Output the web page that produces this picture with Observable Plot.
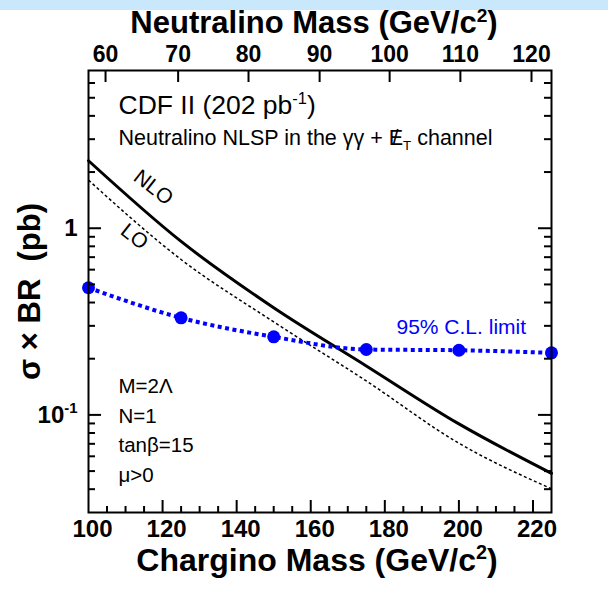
<!DOCTYPE html>
<html>
<head>
<meta charset="utf-8">
<script src="https://cdn.jsdelivr.net/npm/d3@7"></script>
<script src="https://cdn.jsdelivr.net/npm/@observablehq/plot@0.6"></script>
<style>
  html, body { margin: 0; padding: 0; background: #fff; }
  #band { position: absolute; left: 0; top: 0; width: 608px; height: 10px; background: #c9e8fb; }
  #chart { position: absolute; left: 0; top: 0; }
</style>
</head>
<body>
<div id="band"></div>
<div id="chart"></div>
<script>
// ---- data ----
const limitMass = [100, 125, 150, 175, 200, 225];            // chargino mass (GeV/c^2)
const limit95   = [0.48, 0.331, 0.262, 0.224, 0.222, 0.215];  // 95% C.L. limit (pb)
const theoryMass = [100, 125, 150, 175, 200, 225];
const nloXsec    = [2.30, 0.85, 0.375, 0.183, 0.0895, 0.0486];
const loXsec     = [1.81, 0.68, 0.315, 0.152, 0.0705, 0.0402];

const bottomTickLabels = [100, 120, 140, 160, 180, 200, 220];
const bottomMinorTicks = [105, 110, 115, 125, 130, 135, 145, 150, 155, 165, 170, 175, 185, 190, 195, 205, 210, 215];
const bottomMajorTicks = [120, 140, 160, 180, 200, 220];
const neutralinoLabels = [60, 70, 80, 90, 100, 110, 120];
const neutralinoAtChargino = [104.6, 124.2, 143.2, 162.4, 181.3, 200.4, 219.6];
const yMajorTicks = [0.1, 1];
const yMajorLabels = ["10^{-1}", "1"];
const yMinorTicks = [0.04, 0.05, 0.06, 0.07, 0.08, 0.09, 0.2, 0.3, 0.4, 0.5, 0.6, 0.7, 0.8, 0.9, 2, 3, 4, 5, 6];

const topTitle = "Neutralino Mass (GeV/c^{2})";
const bottomTitle = "Chargino Mass (GeV/c^{2})";
const yTitle = "\u03c3 \u00d7 BR\u00a0 (pb)";
const headLine1 = "CDF II (202 pb^{-1})";
const headLine2 = "Neutralino NLSP in the \u03b3\u03b3 + E~{/}_{T} channel";
const paramLines = ["M=2\u039b", "N=1", "tan\u03b2=15", "\u03bc>0"];
const limitLabel = "95% C.L. limit";

// ---- layout ----
const W = 608, H = 597, mL = 88, mR = 57, mT = 70, mB = 85;
const innerW = W - mL - mR, innerH = H - mT - mB;
const FONT = "'Liberation Sans', Arial, Helvetica, sans-serif";
const BLUE = "#0000ff";

const limitData = limitMass.map((m, i) => ({m, v: limit95[i]}));
const nloData = theoryMass.map((m, i) => ({m, v: nloXsec[i]}));
const loData = theoryMass.map((m, i) => ({m, v: loXsec[i]}));

const paramMarks = paramLines.map((t, i) => Plot.text([t], {
  text: d => d, frameAnchor: "top-left", dx: 30, dy: 316 + i * 29.5,
  textAnchor: "start", lineAnchor: "middle", fontSize: 20.5, fill: "black"
}));

const chart = Plot.plot({
  width: W, height: H,
  marginLeft: mL, marginRight: mR, marginTop: mT, marginBottom: mB,
  style: {background: "transparent", fontFamily: FONT, color: "black"},
  x: {domain: [100, 225], axis: null},
  y: {type: "log", domain: [0.03, 7], axis: null},
  marks: [
    // theory curves
    Plot.line(loData, {x: "m", y: "v", stroke: "black", strokeWidth: 1.5, strokeDasharray: "3,2.5", strokeLinecap: "butt", curve: "monotone-x"}),
    Plot.line(nloData, {x: "m", y: "v", stroke: "black", strokeWidth: 3, curve: "monotone-x"}),
    // limit
    Plot.line(limitData, {x: "m", y: "v", stroke: BLUE, strokeWidth: 4, strokeDasharray: "4,3.5", strokeLinecap: "butt", curve: "monotone-x"}),
    Plot.dot(limitData, {x: "m", y: "v", r: 6.5, fill: BLUE, stroke: null}),
    // frame
    Plot.frame({stroke: "black", strokeWidth: 2}),
    // ticks (inward)
    Plot.tickX(bottomMinorTicks, {x: d => d, insetTop: innerH - 6, stroke: "black", strokeWidth: 2}),
    Plot.tickX(bottomMajorTicks, {x: d => d, insetTop: innerH - 12, stroke: "black", strokeWidth: 2}),
    Plot.tickX(neutralinoAtChargino, {x: d => d, insetBottom: innerH - 12, stroke: "black", strokeWidth: 2}),
    Plot.tickY(yMinorTicks, {y: d => d, insetRight: innerW - 7, stroke: "black", strokeWidth: 2}),
    Plot.tickY(yMajorTicks, {y: d => d, insetRight: innerW - 13, stroke: "black", strokeWidth: 2}),
    Plot.tickY(yMinorTicks, {y: d => d, insetLeft: innerW - 7, stroke: "black", strokeWidth: 2}),
    Plot.tickY(yMajorTicks, {y: d => d, insetLeft: innerW - 13, stroke: "black", strokeWidth: 2}),
    // tick labels
    Plot.text(bottomTickLabels, {x: d => d, text: d => String(d), frameAnchor: "bottom", dx: 4, dy: 17, lineAnchor: "middle", fontSize: 24, fontWeight: "bold", fill: "black"}),
    Plot.text(neutralinoLabels, {x: (d, i) => neutralinoAtChargino[i], text: d => String(d), frameAnchor: "top", dy: -16, lineAnchor: "middle", fontSize: 23, fontWeight: "bold", fill: "black"}),
    Plot.text(yMajorTicks, {y: d => d, text: (d, i) => yMajorLabels[i], frameAnchor: "left", dx: -11, textAnchor: "end", lineAnchor: "middle", fontSize: 24, fontWeight: "bold", fill: "black"}),
    // titles
    Plot.text([topTitle], {text: d => d, frameAnchor: "top", dx: -6, dy: -47, textAnchor: "middle", lineAnchor: "middle", fontSize: 31, fontWeight: "bold", fill: "black"}),
    Plot.text([bottomTitle], {text: d => d, frameAnchor: "bottom", dx: -3, dy: 48, textAnchor: "middle", lineAnchor: "middle", fontSize: 32, fontWeight: "bold", fill: "black"}),
    Plot.text([yTitle], {text: d => d, frameAnchor: "left", dx: -58, dy: 0, rotate: -90, textAnchor: "middle", lineAnchor: "middle", fontSize: 31, fontWeight: "bold", fill: "black"}),
    // annotations
    Plot.text([headLine1], {text: d => d, frameAnchor: "top-left", dx: 30, dy: 35, textAnchor: "start", lineAnchor: "middle", fontSize: 26.5, fill: "black"}),
    Plot.text([headLine2], {text: d => d, frameAnchor: "top-left", dx: 30, dy: 68, textAnchor: "start", lineAnchor: "middle", fontSize: 21.5, fill: "black"}),
    Plot.text(["NLO"], {text: d => d, frameAnchor: "top-left", dx: 65, dy: 117, rotate: 38, textAnchor: "middle", lineAnchor: "middle", fontSize: 21, fill: "black"}),
    Plot.text(["LO"], {text: d => d, frameAnchor: "top-left", dx: 46, dy: 166, rotate: 38, textAnchor: "middle", lineAnchor: "middle", fontSize: 21, fill: "black"}),
    Plot.text([limitLabel], {text: d => d, frameAnchor: "top-left", dx: 308, dy: 257, textAnchor: "start", lineAnchor: "middle", fontSize: 21, fill: BLUE}),
    ...paramMarks
  ]
});

document.getElementById("chart").appendChild(chart);

// rich text: ^{..} superscript, _{..} subscript, ~{..} overstrike on previous glyph
function richify(el) {
  const s = el.textContent;
  if (!/[\^_~]\{/.test(s)) return;
  const fs = parseFloat(getComputedStyle(el).fontSize) || 16;
  el.textContent = "";
  const re = /([\^_~])\{([^}]*)\}/g;
  let last = 0, m, pendingDy = 0, pendingDx = 0;
  const ns = "http://www.w3.org/2000/svg";
  const add = (txt, dy, dx, small) => {
    const t = document.createElementNS(ns, "tspan");
    if (dy) t.setAttribute("dy", dy.toFixed(2));
    if (dx) t.setAttribute("dx", dx.toFixed(2));
    if (small) t.setAttribute("font-size", (fs * 0.62).toFixed(1));
    t.textContent = txt;
    el.appendChild(t);
  };
  while ((m = re.exec(s))) {
    if (m.index > last) { add(s.slice(last, m.index), pendingDy, pendingDx, false); pendingDy = 0; pendingDx = 0; }
    if (m[1] === "~") {
      add(m[2], pendingDy, pendingDx - fs * 0.5, false);
      pendingDy = 0; pendingDx = fs * 0.22;
    } else {
      const shift = m[1] === "^" ? -fs * 0.38 : fs * 0.22;
      add(m[2], pendingDy + shift, pendingDx, true);
      pendingDy = -shift; pendingDx = 0;
    }
    last = re.lastIndex;
  }
  if (last < s.length) add(s.slice(last), pendingDy, pendingDx, false);
}
chart.querySelectorAll("text").forEach(richify);
</script>
</body>
</html>
